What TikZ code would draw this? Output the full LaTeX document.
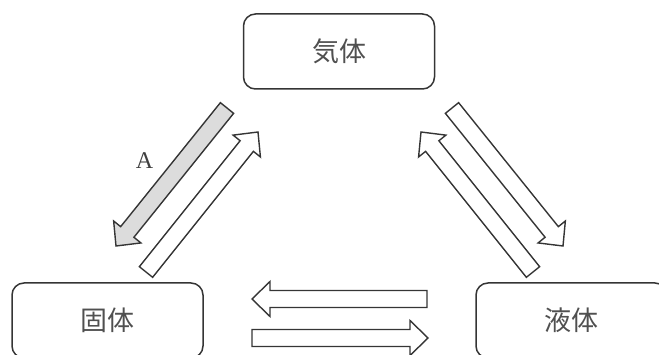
\documentclass[tikz,border=0pt]{standalone}
\usepackage{fontspec}
\setmainfont{Liberation Serif}
\newfontfamily\cjk{Noto Sans CJK JP}
\usetikzlibrary{calc}
\definecolor{linegray}{HTML}{353535}
\definecolor{textgray}{HTML}{505050}
\definecolor{fillgray}{HTML}{DCDCDC}
\tikzset{
  statebox/.style={draw=linegray, line width=1.5pt, rounded corners=12pt,
    minimum width=191pt, minimum height=75pt, inner sep=0pt,
    font=\cjk\fontsize{27}{30}\selectfont, text=textgray},
  blockarrow/.style={draw=linegray, line width=1.4pt, line join=miter, fill=white},
  grayarrow/.style={fill=fillgray},
  lbl/.style={font=\fontsize{24}{26}\selectfont, text=textgray!80!black, inner sep=0pt}
}
\newcommand\blockarr[3][]{%
  \coordinate (tmpN) at ($(#3)!18pt!(#2)$);
  \draw[blockarrow,#1] ($(#2)!8.5pt!90:(#3)$) -- ($(tmpN)!8.5pt!90:(#3)$)
    -- ($(tmpN)!17.5pt!90:(#3)$) -- (#3) -- ($(tmpN)!17.5pt!-90:(#3)$)
    -- ($(tmpN)!8.5pt!-90:(#3)$) -- ($(#2)!8.5pt!-90:(#3)$) -- cycle;}
\begin{document}
\begin{tikzpicture}[x=1pt,y=-1pt]
\useasboundingbox (0,0) rectangle (659,355);
\node[statebox] (gas) at (339,51.5) {気体};
\node[statebox] (solid) at (107.5,320.5) {固体};
\node[statebox] (liquid) at (571.5,320.5) {液体};
% arrow end points
\coordinate (gs1) at (227,108);  \coordinate (gs2) at (116,246);
\coordinate (sg1) at (146,272);  \coordinate (sg2) at (258,132);
\coordinate (gl1) at (452,108);  \coordinate (gl2) at (563,246);
\coordinate (lg1) at (533,272);  \coordinate (lg2) at (421,132);
\coordinate (ls1) at (427,299);  \coordinate (ls2) at (252,299);
\coordinate (sl1) at (252,338);  \coordinate (sl2) at (428,338);
\blockarr[grayarrow]{gs1}{gs2}
\blockarr{sg1}{sg2}
\blockarr{gl1}{gl2}
\blockarr{lg1}{lg2}
\blockarr{ls1}{ls2}
\blockarr{sl1}{sl2}
\node[lbl] (A) at (144.5,160.5) {A};
\end{tikzpicture}
\end{document}
